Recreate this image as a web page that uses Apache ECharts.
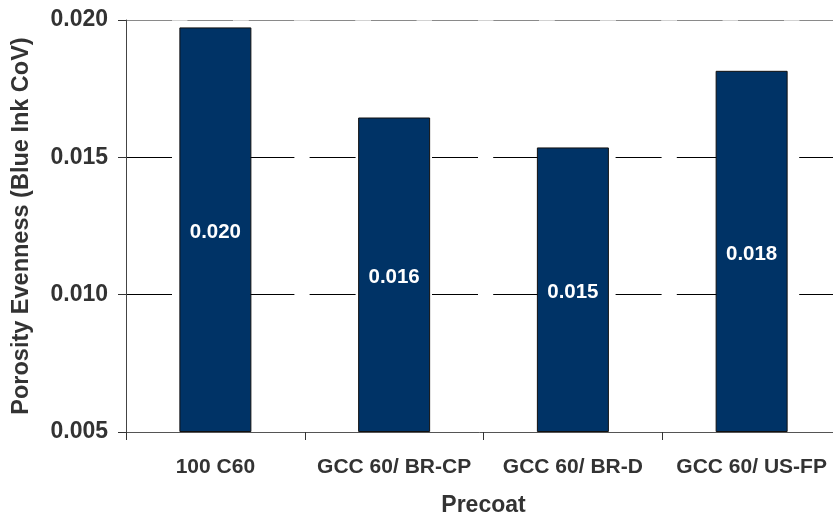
<!DOCTYPE html>
<html>
<head>
<meta charset="utf-8">
<script src="https://cdn.jsdelivr.net/npm/echarts@6/dist/echarts.min.js"></script>
<style>
  html, body { margin: 0; padding: 0; background: #fff; }
  #chart { width: 833px; height: 514px; }
</style>
</head>
<body>
<div id="chart"></div>
<script>
// Precoat types and their porosity evenness (blue ink coefficient of variation)
const categories = ['100 C60', 'GCC 60/ BR-CP', 'GCC 60/ BR-D', 'GCC 60/ US-FP'];
const evenness = [0.01973, 0.01645, 0.01536, 0.01815];
const yTicks = [0.005, 0.010, 0.015, 0.020];

const FONT = '"Liberation Sans", Arial, sans-serif';
const DASH = [46, 15.2];
const chart = echarts.init(document.getElementById('chart'), null, { renderer: 'canvas' });

chart.setOption({
  animation: false,
  backgroundColor: '#ffffff',
  grid: { left: 126, right: -8, top: 20, bottom: 82, containLabel: false, outerBoundsMode: 'none' },
  xAxis: {
    type: 'category',
    data: categories,
    name: 'Precoat',
    nameLocation: 'middle',
    nameGap: 62,
    nameTextStyle: { fontFamily: FONT, fontWeight: 'bold', fontSize: 23, color: '#333333' },
    axisLine: { show: true, lineStyle: { color: '#555555', width: 1 } },
    axisTick: { show: true, length: 8, interval: 0, alignWithLabel: false, lineStyle: { color: '#333333' } },
    axisLabel: { interval: 0, fontFamily: FONT, fontWeight: 'bold', fontSize: 21, color: '#333333', margin: 25 },
    splitLine: { show: false }
  },
  yAxis: {
    type: 'value',
    min: yTicks[0],
    max: yTicks[yTicks.length - 1],
    interval: 0.005,
    startValue: yTicks[0],
    name: 'Porosity Evenness (Blue Ink CoV)',
    nameLocation: 'middle',
    nameGap: 92,
    nameTextStyle: { fontFamily: FONT, fontWeight: 'bold', fontSize: 23.5, color: '#333333' },
    axisLine: { show: true, lineStyle: { color: '#444444', width: 1 } },
    axisTick: { show: true, length: 8, lineStyle: { color: '#333333' } },
    axisLabel: {
      fontFamily: FONT, fontWeight: 'bold', fontSize: 23, color: '#333333', margin: 18,
      formatter: v => v.toFixed(3)
    },
    splitLine: {
      show: true,
      showMinLine: false,
      lineStyle: { color: ['#000000', '#000000', '#8a8a8a'], width: 1, type: DASH, dashOffset: 0 }
    }
  },
  series: [{
    type: 'bar',
    data: evenness,
    barWidth: 72,
    clip: true,
    itemStyle: { color: '#003366', borderColor: '#111111', borderWidth: 1 },
    label: {
      show: true,
      position: 'inside',
      offset: [0, 3],
      fontFamily: FONT, fontWeight: 'bold', fontSize: 20.5, color: '#ffffff',
      formatter: p => p.value.toFixed(3)
    },
    // light fill in the gaps of the top gridline
    markLine: {
      silent: true,
      symbol: 'none',
      label: { show: false },
      lineStyle: { color: '#d2d2d2', width: 1, type: [DASH[1], DASH[0]], dashOffset: DASH[1] },
      data: [{ yAxis: yTicks[yTicks.length - 1] }]
    }
  }]
});
</script>
</body>
</html>
